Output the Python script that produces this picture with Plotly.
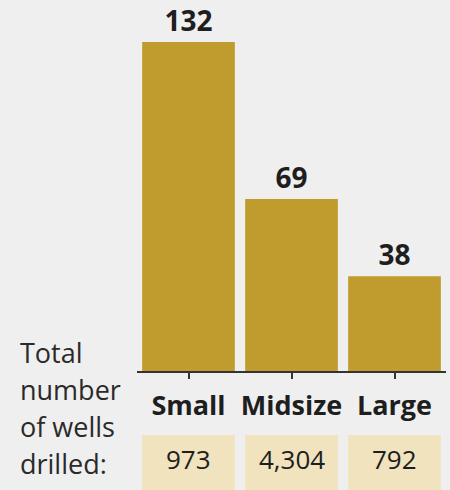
import plotly.graph_objects as go

categories = ["Small", "Midsize", "Large"]
values = [132, 69, 38]
wells = ["973", "4,304", "792"]
side_lines = ["Total", "number", "of wells", "drilled:"]

BAR = "#c09c2e"
BOX = "#f0e3bd"
BG = "#efefef"
INK = "#1e1e1e"
FONT = "Open Sans"

plot_h = 490 - 22 - 119  # plot area height in px
axis_px = 371


def py(px):
    return (axis_px - px) / plot_h


fig = go.Figure()
fig.add_trace(go.Bar(
    x=list(range(len(categories))), y=values,
    width=0.9,
    marker=dict(color=BAR, line=dict(width=0)),
    text=[str(v) for v in values],
    textposition="outside",
    textfont=dict(family=FONT, size=28, color=INK, weight="bold"),
    cliponaxis=False,
    hoverinfo="skip",
))

shapes = []
annotations = []
for i, w in enumerate(wells):
    shapes.append(dict(type="rect", xref="x", yref="paper",
                       x0=i - 0.45, x1=i + 0.45,
                       y0=py(490), y1=py(435),
                       fillcolor=BOX, line=dict(width=0), layer="below"))
    annotations.append(dict(xref="x", yref="paper", x=i, y=py(459),
                            text=w, showarrow=False, xanchor="center", yanchor="middle",
                            font=dict(family=FONT, size=26, color=INK)))

for k, line in enumerate(side_lines):
    annotations.append(dict(xref="paper", yref="paper", x=(18 - 137) / 309,
                            y=py(352 + 37.3 * k),
                            text=line, showarrow=False, xanchor="left", yanchor="middle",
                            align="left",
                            font=dict(family=FONT, size=27, color="#2a2a2a")))

fig.update_layout(
    width=450, height=490,
    margin=dict(l=137, r=4, t=22, b=119),
    paper_bgcolor=BG, plot_bgcolor=BG,
    showlegend=False,
    shapes=shapes,
    annotations=annotations,
    bargap=0.1,
)
fig.update_xaxes(
    range=[-0.5, 2.5],
    tickmode="array", tickvals=list(range(len(categories))), ticktext=categories,
    ticks="outside", ticklen=6, tickwidth=2, tickcolor="#333333",
    showline=True, linecolor="#333333", linewidth=2,
    showgrid=False, zeroline=False,
    tickfont=dict(family=FONT, size=27, color=INK, weight="bold"),
    ticklabelstandoff=4,
    fixedrange=True,
)
fig.update_yaxes(range=[0, 140], visible=False, showgrid=False, zeroline=False, fixedrange=True)

fig.write_html("out.html", config={"displayModeBar": False})
